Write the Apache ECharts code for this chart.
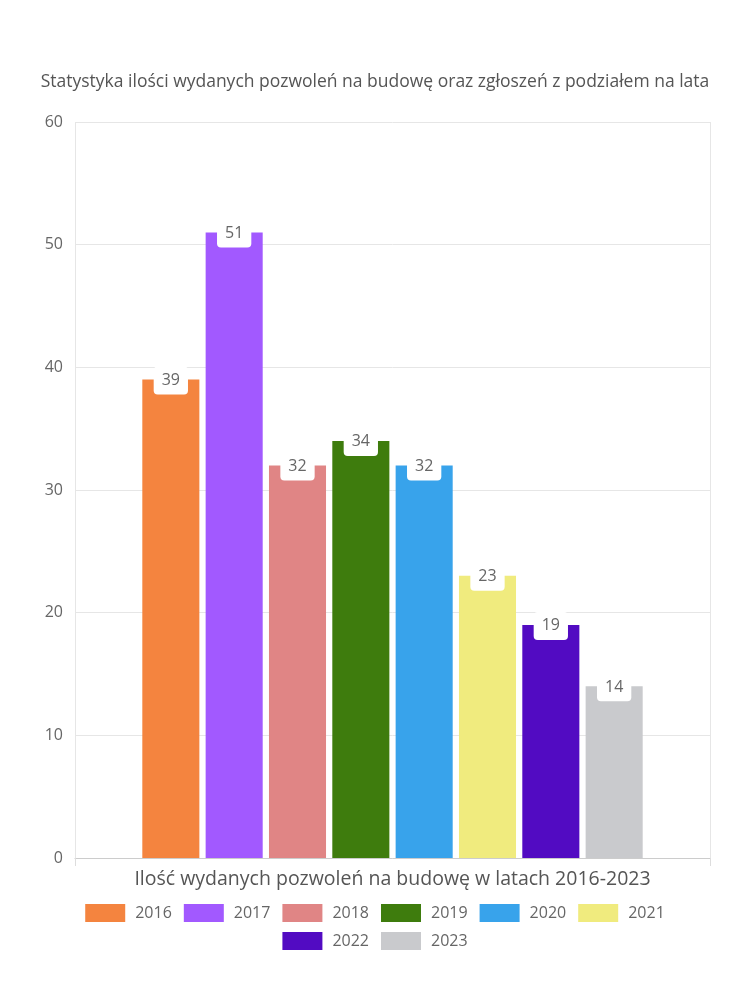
<!DOCTYPE html>
<html><head><meta charset="utf-8">
<script src="https://cdn.jsdelivr.net/npm/echarts@6/dist/echarts.min.js"></script>
<style>html,body{margin:0;padding:0;background:#fff}#c{width:750px;height:1000px}</style>
</head><body><div id="c"></div>
<script>
const titleText = 'Statystyka ilości wydanych pozwoleń na budowę oraz zgłoszeń z podziałem na lata';
const categories = ['Ilość wydanych pozwoleń na budowę w latach 2016-2023'];
const seriesNames = ['2016','2017','2018','2019','2020','2021','2022','2023'];
const values = [39, 51, 32, 34, 32, 23, 19, 14];
const colors = ['#f4843f','#a259ff','#e08585','#3e7c0d','#38a3eb','#f0eb7e','#520bc2','#c9cacd'];
const yTicks = {min: 0, max: 60, interval: 10};

const font = '"Open Sans", Lato, sans-serif';
const legendBase = {
  left: 'center', itemWidth: 40, itemHeight: 18, itemGap: 12, icon: 'rect',
  textStyle: {fontSize: 16, color: '#666', fontFamily: font, padding: [0, 0, 0, 5]}
};
const chart = echarts.init(document.getElementById('c'), null, {renderer: 'canvas'});
chart.setOption({
  animation: false,
  textStyle: {fontFamily: font},
  title: {text: titleText, left: 'center', top: 68,
    textStyle: {fontSize: 17.5, fontWeight: 'normal', color: '#555', fontFamily: font}},
  grid: {left: 75, right: 40, top: 122, bottom: 142, containLabel: false},
  legend: [
    Object.assign({}, legendBase, {data: seriesNames.slice(0, 6), top: 899}),
    Object.assign({}, legendBase, {data: seriesNames.slice(6), top: 927})
  ],
  xAxis: {
    type: 'category', data: categories,
    axisLine: {lineStyle: {color: '#ccc'}},
    axisTick: {show: true, length: 8, lineStyle: {color: '#ddd'}},
    splitLine: {show: true, lineStyle: {color: '#e6e6e6'}},
    axisLabel: {fontSize: 19.5, color: '#555', margin: 11, fontFamily: font}
  },
  yAxis: {
    type: 'value', min: yTicks.min, max: yTicks.max, interval: yTicks.interval,
    axisLine: {show: false}, axisTick: {show: false},
    splitLine: {lineStyle: {color: '#e6e6e6'}},
    axisLabel: {fontSize: 16, color: '#666', margin: 12, fontFamily: font}
  },
  series: seriesNames.map((n, i) => ({
    name: n, type: 'bar', data: [values[i]],
    itemStyle: {color: colors[i]},
    barGap: '11%', barCategoryGap: '21.2%',
    label: {
      show: true, position: 'top', distance: -15,
      backgroundColor: '#fff', borderRadius: 4,
      padding: [6, 8, 6, 8],
      color: '#666', fontSize: 16, fontFamily: font
    }
  }))
});
</script></body></html>
